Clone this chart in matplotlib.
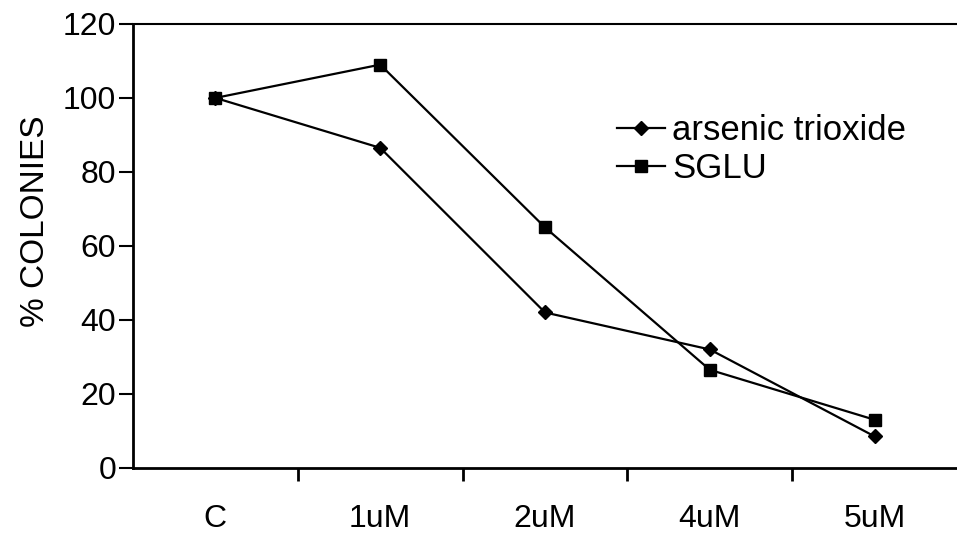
import matplotlib
matplotlib.use('Agg')
import matplotlib.pyplot as plt

categories = ['C', '1uM', '2uM', '4uM', '5uM']
arsenic = [100, 86.5, 42, 32, 8.5]
sglu = [100, 109, 65, 26.5, 13]
yticks = [0, 20, 40, 60, 80, 100, 120]

plt.rcParams['font.family'] = ['Liberation Sans Narrow', 'Liberation Sans', 'DejaVu Sans']

fig = plt.figure(figsize=(9.57, 5.44), dpi=100)
ax = fig.add_axes([0.139, 0.140, 0.861, 0.816])

x = list(range(len(categories)))
ax.plot(x, arsenic, color='black', lw=1.6, marker='D', ms=7, label='arsenic trioxide')
ax.plot(x, sglu, color='black', lw=1.6, marker='s', ms=9, label='SGLU')

ax.set_xlim(-0.5, len(categories) - 0.5)
ax.set_ylim(0, 120)
ax.set_yticks(yticks)
ax.set_yticklabels([str(v) for v in yticks], fontsize=23)

# category labels centred, tick marks between categories
ax.set_xticks(x)
ax.set_xticklabels(categories, fontsize=23)
ax.tick_params(axis='x', which='major', length=0, pad=26)
ax.set_xticks([i + 0.5 for i in x[:-1]], minor=True)
ax.tick_params(axis='x', which='minor', length=9, width=2, direction='out')
ax.tick_params(axis='y', length=10, width=1.5, direction='out', pad=2)

for s in ['left', 'bottom']:
    ax.spines[s].set_linewidth(2)
ax.spines['top'].set_linewidth(1.5)
ax.spines['right'].set_visible(False)

ax.set_ylabel('% COLONIES', fontsize=24)
ax.yaxis.set_label_coords(-0.10, 0.555)

ax.legend(loc='upper left', bbox_to_anchor=(0.566, 0.837), frameon=False,
          fontsize=25, handlelength=1.4, handletextpad=0.2, labelspacing=0.15,
          borderpad=0)

fig.savefig('out.png', dpi=100)
